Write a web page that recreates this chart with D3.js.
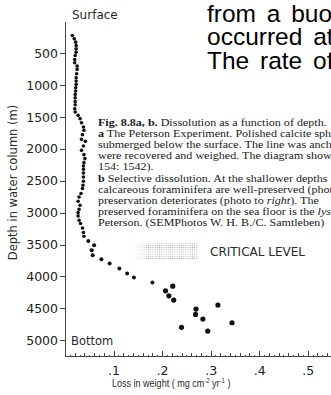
<!DOCTYPE html>
<html lang="en">
<head>
<meta charset="utf-8">
<title>Dissolution as a function of depth</title>
<style type="text/css">
	body {
		margin: 0;
		background-color: white;
		overflow: hidden;
	}
	svg { display: block; }
	.axis path,
	.axis line {
		fill: none;
		stroke: #444;
		shape-rendering: crispEdges;
	}
	.axis text {
		font-family: "DejaVu Sans", sans-serif;
		font-size: 12.5px;
		fill: #222;
	}
	.label {
		font-family: "DejaVu Sans", sans-serif;
		fill: #2a2a2a;
	}
	.caption {
		font-family: "Liberation Serif", serif;
		font-size: 10.5px;
		fill: #1a1a1a;
	}
	.page {
		font-family: "Liberation Sans", Arial, sans-serif;
		font-size: 24.5px;
		fill: #000;
	}
	.dot { fill: #111; }
</style>
</head>
<body>
<script type="text/javascript" src="https://cdnjs.cloudflare.com/ajax/libs/d3/7.8.5/d3.min.js"></script>
<script type="text/javascript">

	// depth of each sphere (m) and its loss in weight (mg cm-2 yr-1)
	var depth = [219, 272, 324, 376, 428, 481, 533, 596, 648, 700, 752, 820, 883, 935, 987,
		1040, 1092, 1144, 1196, 1254, 1306, 1369, 1421, 1473, 1525, 1590, 1656, 1708, 1776, 1850,
		1881, 1955, 2022, 2090, 2152, 2215, 2268, 2320, 2378, 2440, 2508, 2571, 2622, 2700, 2754,
		2821, 2884, 2947, 2999, 3051, 3119, 3171, 3240, 3312, 3370, 3444, 3511, 3589, 3668, 3730,
		3798, 3876, 3955, 4017, 4096, 4154, 4227, 4305, 4373, 4451, 4514, 4597, 4671, 4728, 4800,
		4859];
	var loss = [.015, .019, .022, .023, .023, .023, .021, .020, .020, .025, .025, .024, .023, .023, .023,
		.022, .022, .021, .021, .021, .021, .020, .021, .027, .031, .034, .038, .039, .036, .034,
		.042, .038, .034, .039, .041, .039, .038, .038, .038, .038, .038, .037, .036, .033, .029,
		.027, .031, .029, .027, .027, .029, .032, .036, .038, .039, .048, .060, .055, .057, .075,
		.092, .112, .128, .142, .180, .222, .207, .214, .224, .315, .270, .269, .284, .344, .240,
		.294];

	var depthTicks = [500, 1000, 1500, 2000, 2500, 3000, 3500, 4000, 4500, 5000];
	var lossTicks = [.1, .2, .3, .4, .5];

	// overlapping page text
	var pageLines = ["from a buoy", "occurred at", "The rate of"];
	var captionLines = [
		[["Fig. 8.8a, b.", "b"], [" Dissolution as a function of depth."]],
		[["a", "b"], [" The Peterson Experiment. Polished calcite spheres"]],
		[["submerged below the surface. The line was anchored"]],
		[["were recovered and weighed. The diagram shows"]],
		[["154: 1542)."]],
		[["b", "b"], [" Selective dissolution. At the shallower depths"]],
		[["calcareous foraminifera are well-preserved (photo"]],
		[["preservation deteriorates (photo to "], ["right", "i"], ["). The"]],
		[["preserved foraminifera on the sea floor is the "], ["lysocline", "i"]],
		[["Peterson. (SEMPhotos W. H. B./C. Samtleben)"]]
	];

	var fullwidth = 331;
	var fullheight = 395;

	var svg = d3.select("body")
			.append("svg")
			.attr("width", fullwidth)
			.attr("height", fullheight);

	var xScale = d3.scaleLinear()
			.domain([0, 0.55])
			.range([65, 332]);

	var yScale = d3.scaleLinear()
			.domain([0, 5250])
			.range([21.5, 356]);

	// stipple patch next to CRITICAL LEVEL
	var defs = svg.append("defs");
	var pat = defs.append("pattern")
		.attr("id", "stip")
		.attr("width", 2.2)
		.attr("height", 2.2)
		.attr("patternUnits", "userSpaceOnUse");
	pat.append("circle")
		.attr("cx", 1.1).attr("cy", 1.1).attr("r", 0.55)
		.attr("fill", "#888");
	var grad = defs.append("linearGradient").attr("id", "fade");
	grad.append("stop").attr("offset", "0").attr("stop-color", "white").attr("stop-opacity", 0);
	grad.append("stop").attr("offset", "0.25").attr("stop-color", "white").attr("stop-opacity", 1);
	grad.append("stop").attr("offset", "1").attr("stop-color", "white").attr("stop-opacity", 1);
	var mask = defs.append("mask").attr("id", "fademask");
	mask.append("rect")
		.attr("x", 134).attr("y", 243).attr("width", 64).attr("height", 16)
		.attr("fill", "url(#fade)");

	svg.append("rect")
		.attr("x", 134).attr("y", 243)
		.attr("width", 64).attr("height", 16)
		.attr("fill", "url(#stip)")
		.attr("mask", "url(#fademask)")
		.style("opacity", 0.75);

	// caption block from the book page (stretched sideways in the scan)
	var capG = svg.append("g")
		.attr("transform", "translate(98,0) scale(1.15,1)");

	var cap = capG.selectAll("text.caption")
		.data(captionLines)
		.enter()
		.append("text")
		.attr("class", "caption")
		.attr("x", 0)
		.attr("y", function(d, i) {
			return 126 + i * 10.9 + (i >= 5 ? 1.5 : 0);
		});
	cap.selectAll("tspan")
		.data(function(d) { return d; })
		.enter()
		.append("tspan")
		.style("font-weight", function(d) { return d[1] === "b" ? "bold" : null; })
		.style("font-style", function(d) { return d[1] === "i" ? "italic" : null; })
		.text(function(d) { return d[0]; });

	svg.selectAll("text.page")
		.data(pageLines)
		.enter()
		.append("text")
		.attr("class", "page")
		.attr("x", 207)
		.attr("y", function(d, i) { return 21.5 + i * 23.8; })
		.style("word-spacing", "4px")
		.text(function(d) { return d; });

	// axes
	var yAxis = d3.axisLeft(yScale)
		.tickValues(depthTicks)
		.tickSize(5)
		.tickSizeOuter(0)
		.tickPadding(2)
		.tickFormat(d3.format("d"));

	svg.append("g")
		.attr("class", "y axis")
		.attr("transform", "translate(65,0)")
		.call(yAxis);

	var minor = d3.range(1, 55).map(function(i) { return i / 100; });

	svg.append("g")
		.attr("class", "x axis minor")
		.attr("transform", "translate(0,356)")
		.call(d3.axisBottom(xScale)
			.tickValues(minor)
			.tickSizeOuter(0)
			.tickFormat(""))
		.selectAll(".tick line")
		.attr("y2", function(d) {
			return Math.round(d * 100) % 2 === 0 ? -3 : -1.5;
		});

	svg.append("g")
		.attr("class", "x axis")
		.attr("transform", "translate(0,356)")
		.call(d3.axisBottom(xScale)
			.tickValues(lossTicks)
			.tickSize(-5)
			.tickSizeOuter(0)
			.tickPadding(10)
			.tickFormat(function(d) { return d3.format(".1f")(d).slice(1); }));

	// axis labels
	svg.append("text")
		.attr("class", "label")
		.attr("x", 72)
		.attr("y", 19)
		.style("font-size", "12px")
		.text("Surface");

	svg.append("text")
		.attr("class", "label")
		.attr("x", 71)
		.attr("y", 344.5)
		.style("font-size", "11.5px")
		.text("Bottom");

	svg.append("text")
		.attr("class", "label")
		.attr("transform", "translate(17,182.5) rotate(-90)")
		.style("text-anchor", "middle")
		.style("font-size", "11.5px")
		.text("Depth in water column (m)");

	var xl = svg.append("g")
		.attr("transform", "translate(112,387) scale(0.86,1)")
		.append("text")
		.attr("class", "label")
		.attr("x", 0)
		.attr("y", 0)
		.style("font-family", "'Liberation Sans', Arial, sans-serif")
		.style("font-size", "10.5px");
	xl.append("tspan").text("Loss in weight ( mg  cm");
	xl.append("tspan").attr("dy", -4).style("font-size", "7px").text("-2");
	xl.append("tspan").attr("dy", 4).text(" yr");
	xl.append("tspan").attr("dy", -4).style("font-size", "7px").text("-1");
	xl.append("tspan").attr("dy", 4).text(" )");

	svg.append("text")
		.attr("class", "label")
		.attr("x", 210)
		.attr("y", 256)
		.style("font-size", "12px")
		.text("CRITICAL LEVEL");

	// the spheres
	svg.selectAll("circle.dot")
		.data(depth)
		.enter()
		.append("circle")
		.attr("class", "dot")
		.attr("cx", function(d, i) { return xScale(loss[i]); })
		.attr("cy", function(d) { return yScale(d); })
		.attr("r", function(d) {
			if (d > 4100) { return 2.6; }
			else if (d > 3400) { return 2; }
			return 1.8;
		});

</script>
</body>
</html>
